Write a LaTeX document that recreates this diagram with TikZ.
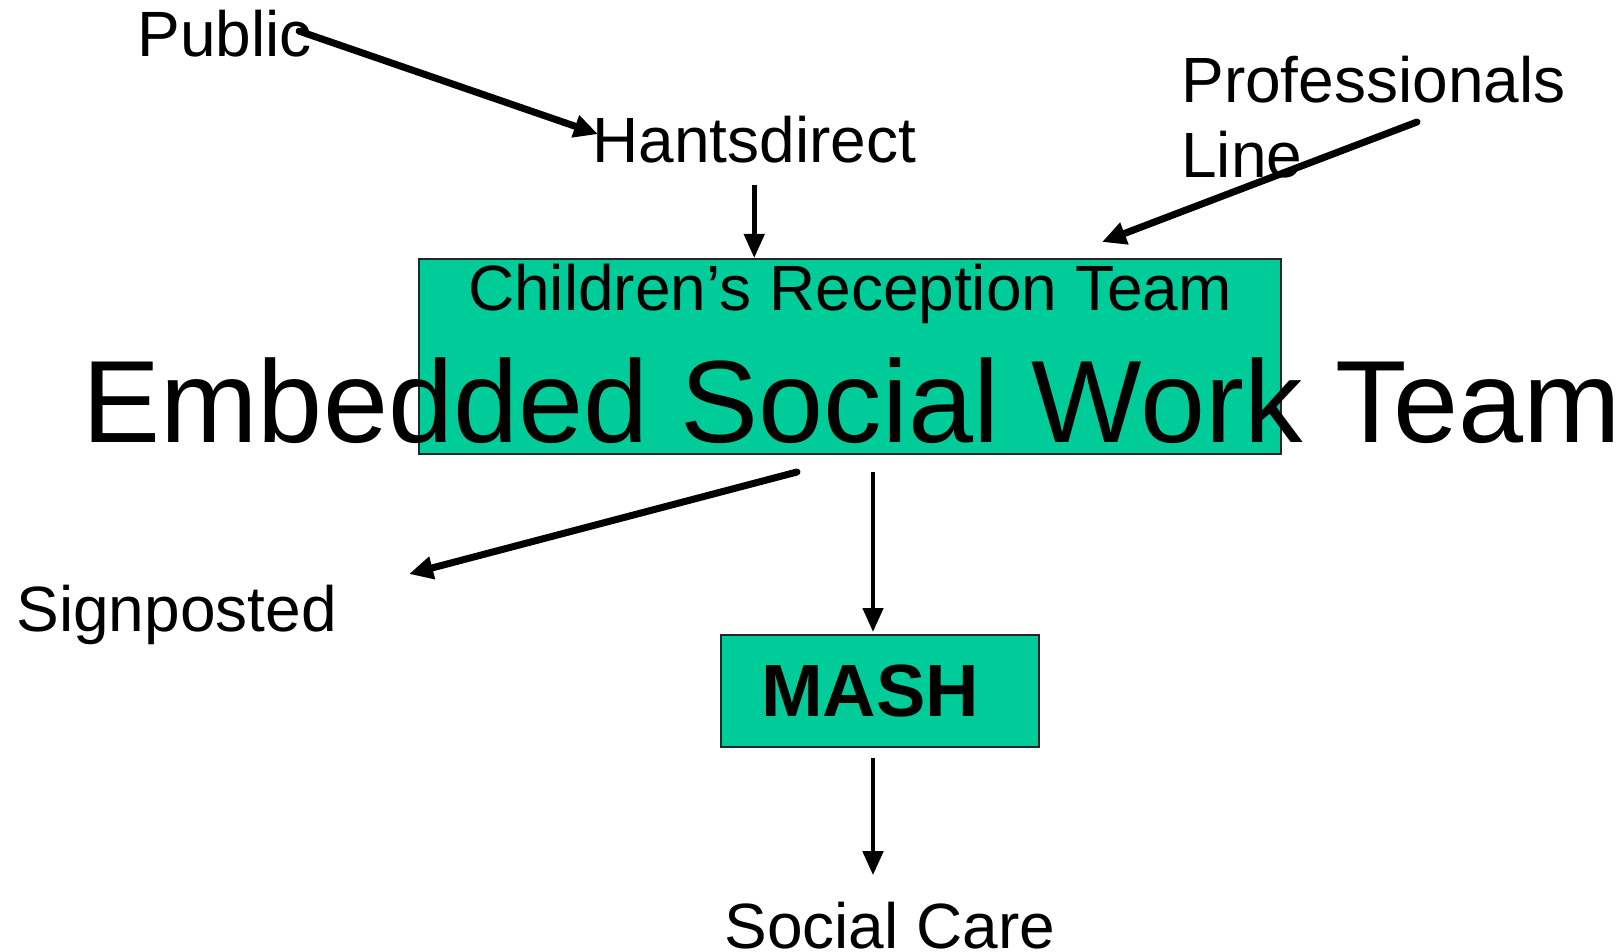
\documentclass[tikz,border=0pt]{standalone}
\usepackage{fontspec}
\setmainfont{Liberation Sans}
\usepackage{tikz}
\usetikzlibrary{arrows.meta, positioning, calc}
\definecolor{crtgreen}{RGB}{0,204,153}

\begin{document}
\begin{tikzpicture}[
    x=0.5pt, y=-0.5pt,
    lbl/.style={inner sep=0, font=\fontsize{32}{37.5}\selectfont},
    teambox/.style={draw=black!85, line width=1pt, fill=crtgreen, inner sep=0},
    arr/.style={-{Triangle[length=12pt, width=11pt]}, line width=3.5pt, line cap=round},
    darr/.style={-{Triangle[length=12pt, width=10pt]}, line width=2.3pt}
]
\useasboundingbox (0,0) rectangle (1622,952);
\node[teambox, minimum width=431pt, minimum height=97.5pt] (crt) at (850,356.5) {};
\node[inner sep=0, font=\fontsize{32}{36}\selectfont, anchor=base] (crtname) at (850,310) {Children’s Reception Team};
\node[inner sep=0, font=\fontsize{58.5}{64}\selectfont, anchor=base] (eswt) at (852,442) {Embedded Social Work Team};
\node[teambox, minimum width=159pt, minimum height=56pt, font=\fontsize{37}{40}\selectfont\bfseries] (mash) at (880,691) {MASH\kern10pt};

\node[lbl, anchor=base west] (public) at (137,57) {Public};
\node[lbl, anchor=base west] (hants) at (592,163) {Hantsdirect};
\node[lbl, anchor=base west, align=left] (prof) at (1181,178) {Professionals\\Line};
\node[lbl, anchor=base west] (sign) at (16,631) {Signposted};
\node[lbl, anchor=base west] (care) at (724,948) {Social Care};

\draw[arr] ($(public.east)+(-13,-3)$) -- ($(hants.west)+(6,-6)$);
\draw[darr] ($(hants.south)+(0,21)$) -- (hants.south |- crt.north);
\draw[arr] ($(prof.base west)+(236,-56)$) -- ($(crt.north east)+(-180,-16)$);
\draw[arr] ($(crt.south)+(-53,17)$) -- ($(sign.base east)+(72,-57)$);
\draw[darr] ($(crt.south -| mash.north)+(-7,17)$) -- ($(mash.north)+(-7,-2)$);
\draw[darr] ($(mash.south)+(-7,10)$) -- ($(care.north -| mash.south)+(-7,-26)$);
\end{tikzpicture}
\end{document}
